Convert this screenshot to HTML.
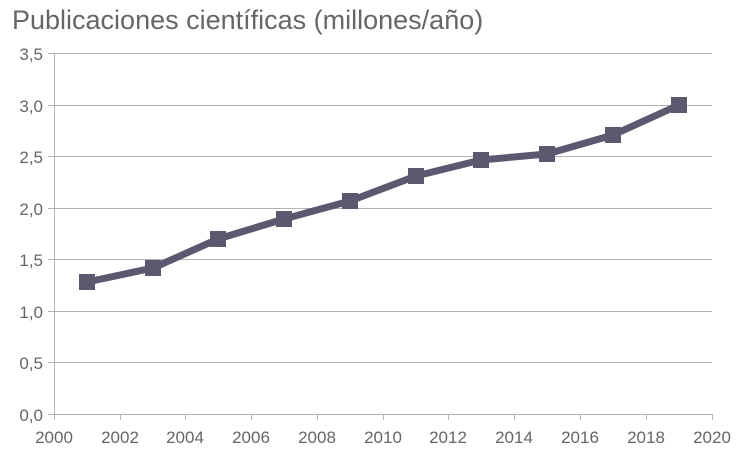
<!DOCTYPE html>
<html><head><style>body{margin:0;background:#fff}</style></head><body>
<svg width="749" height="455" xmlns="http://www.w3.org/2000/svg" font-family="Liberation Sans, sans-serif">
<text x="12" y="29" font-size="27" fill="#666">Publicaciones científicas (millones/año)</text>
<g stroke="#b3b3b3" stroke-width="1">
<line x1="48" y1="53.5" x2="712" y2="53.5"/>
<line x1="48" y1="105.5" x2="712" y2="105.5"/>
<line x1="48" y1="156.5" x2="712" y2="156.5"/>
<line x1="48" y1="208.5" x2="712" y2="208.5"/>
<line x1="48" y1="259.5" x2="712" y2="259.5"/>
<line x1="48" y1="311.5" x2="712" y2="311.5"/>
<line x1="48" y1="362.5" x2="712" y2="362.5"/>
<line x1="48" y1="414.5" x2="712" y2="414.5"/>
<line x1="54.5" y1="53" x2="54.5" y2="420"/>
<line x1="120.5" y1="414" x2="120.5" y2="420"/>
<line x1="185.5" y1="414" x2="185.5" y2="420"/>
<line x1="251.5" y1="414" x2="251.5" y2="420"/>
<line x1="317.5" y1="414" x2="317.5" y2="420"/>
<line x1="383.5" y1="414" x2="383.5" y2="420"/>
<line x1="448.5" y1="414" x2="448.5" y2="420"/>
<line x1="514.5" y1="414" x2="514.5" y2="420"/>
<line x1="580.5" y1="414" x2="580.5" y2="420"/>
<line x1="646.5" y1="414" x2="646.5" y2="420"/>
<line x1="712.5" y1="414" x2="712.5" y2="420"/>
</g>
<g font-size="17" fill="#666" text-anchor="end">
<text x="43" y="60">3,5</text><text x="43" y="112">3,0</text><text x="43" y="163">2,5</text><text x="43" y="215">2,0</text><text x="43" y="266">1,5</text><text x="43" y="318">1,0</text><text x="43" y="369">0,5</text><text x="43" y="421">0,0</text>
</g>
<g font-size="17" fill="#666" text-anchor="middle">
<text x="54" y="443">2000</text><text x="120" y="443">2002</text><text x="185" y="443">2004</text><text x="251" y="443">2006</text><text x="317" y="443">2008</text><text x="383" y="443">2010</text><text x="448" y="443">2012</text><text x="514" y="443">2014</text><text x="580" y="443">2016</text><text x="646" y="443">2018</text><text x="712" y="443">2020</text>
</g>
<polyline fill="none" stroke="#5b5870" stroke-width="7" stroke-linejoin="round" points="87,282 153,268 218,239 284,219 350,201 416,176 481,160 547,154 613,135 679,105"/>
<g fill="#5b5870">
<rect x="79" y="274" width="16" height="16"/><rect x="145" y="260" width="16" height="16"/><rect x="210" y="231" width="16" height="16"/><rect x="276" y="211" width="16" height="16"/><rect x="342" y="193" width="16" height="16"/><rect x="408" y="168" width="16" height="16"/><rect x="473" y="152" width="16" height="16"/><rect x="539" y="146" width="16" height="16"/><rect x="605" y="127" width="16" height="16"/><rect x="671" y="97" width="16" height="16"/>
</g>
</svg>
</body></html>
